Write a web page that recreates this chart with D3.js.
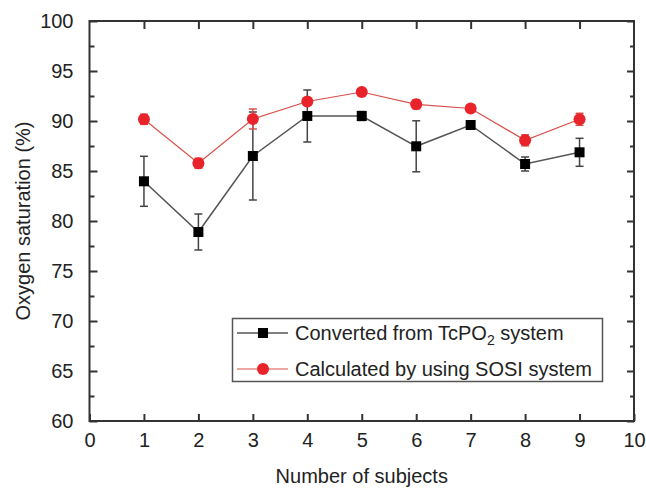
<!DOCTYPE html>
<html><head><meta charset="utf-8">
<script src="https://cdn.jsdelivr.net/npm/d3@7/dist/d3.min.js"></script>
<style>body{margin:0;background:#fff}svg{display:block;font-family:"Liberation Sans",Arial,sans-serif}</style>
</head><body><svg id="c" width="646" height="488"></svg>
<script>
const subjects = [1,2,3,4,5,6,7,8,9];
const tcpo2 = [83.97,78.9,86.5,90.5,90.5,87.47,89.6,85.7,86.87];
const tcpo2Err = [2.5,1.8,4.4,2.6,0.45,2.55,0.25,0.7,1.4];
const sosi = [90.17,85.77,90.2,91.95,92.9,91.67,91.25,88.07,90.17];
const sosiErr = [0.5,0.5,1.0,0.35,0.3,0.45,0.25,0.55,0.6];
const xTicks = [0,1,2,3,4,5,6,7,8,9,10];
const yTicks = [60,65,70,75,80,85,90,95,100];
const yMinor = [62.5,67.5,72.5,77.5,82.5,87.5,92.5,97.5];
const seriesNames = ["Converted from TcPO", "Calculated by using SOSI system"];

const svg = d3.select("#c");
const L=89.5, R=634, T=21, B=421;
const x = d3.scaleLinear().domain([0,10]).range([L,R]);
const y = d3.scaleLinear().domain([60,100]).range([B,T]);
const axisCol="#333";

svg.append("rect").attr("x",L).attr("y",T).attr("width",R-L).attr("height",B-T)
  .attr("fill","none").attr("stroke",axisCol).attr("stroke-width",2);

const fs=20;
const gx = svg.append("g").attr("transform",`translate(0,${B})`)
  .call(d3.axisBottom(x).tickValues(xTicks).tickSize(-7).tickPadding(12).tickFormat(d3.format("d")));
gx.select(".domain").remove();
gx.selectAll("line").attr("stroke",axisCol).attr("stroke-width",2);
gx.selectAll("text").attr("font-size",fs).attr("fill","#222").attr("font-family","Liberation Sans, Arial, sans-serif");
const gt = svg.append("g").attr("transform",`translate(0,${T})`)
  .call(d3.axisTop(x).tickValues(xTicks.slice(1,-1)).tickSize(-8).tickFormat(""));
gt.select(".domain").remove();
gt.selectAll("line").attr("stroke",axisCol).attr("stroke-width",2);
const gy = svg.append("g").attr("transform",`translate(${L},0)`)
  .call(d3.axisLeft(y).tickValues(yTicks).tickSize(-8).tickPadding(16).tickFormat(d3.format("d")));
gy.select(".domain").remove();
gy.selectAll("line").attr("stroke",axisCol).attr("stroke-width",2);
gy.selectAll("text").attr("font-size",fs).attr("fill","#222").attr("font-family","Liberation Sans, Arial, sans-serif");
const gym = svg.append("g").attr("transform",`translate(${L},0)`)
  .call(d3.axisLeft(y).tickValues(yMinor).tickSize(-5).tickFormat(""));
gym.select(".domain").remove();
gym.selectAll("line").attr("stroke",axisCol).attr("stroke-width",2);
const gr = svg.append("g").attr("transform",`translate(${R},0)`)
  .call(d3.axisRight(y).tickValues(yTicks).tickSize(-7).tickFormat(""));
gr.select(".domain").remove();
gr.selectAll("line").attr("stroke",axisCol).attr("stroke-width",2);
const grm = svg.append("g").attr("transform",`translate(${R},0)`)
  .call(d3.axisRight(y).tickValues(yMinor).tickSize(-4).tickFormat(""));
grm.select(".domain").remove();
grm.selectAll("line").attr("stroke",axisCol).attr("stroke-width",2);

svg.append("text").attr("x",(L+R)/2).attr("y",483).attr("text-anchor","middle")
  .attr("font-size",fs).attr("fill","#222").text("Number of subjects");
svg.append("text").attr("transform",`translate(29.5,${(T+B)/2}) rotate(-90)`).attr("text-anchor","middle")
  .attr("font-size",fs).attr("fill","#222").text("Oxygen saturation (%)");

function drawSeries(vals, errs, lineCol, lw, errCol, markCol, shape){
  const g = svg.append("g");
  g.append("path").datum(subjects.map((s,i)=>[s,vals[i]]))
    .attr("d",d3.line().x(d=>x(d[0])).y(d=>y(d[1])))
    .attr("fill","none").attr("stroke",lineCol).attr("stroke-width",lw);
  subjects.forEach((s,i)=>{
    const cx=x(s), y1=y(vals[i]+errs[i]), y2=y(vals[i]-errs[i]);
    g.append("line").attr("x1",cx).attr("x2",cx).attr("y1",y1).attr("y2",y2).attr("stroke",errCol).attr("stroke-width",1.5);
    g.append("line").attr("x1",cx-4).attr("x2",cx+4).attr("y1",y1).attr("y2",y1).attr("stroke",errCol).attr("stroke-width",1.5);
    g.append("line").attr("x1",cx-4).attr("x2",cx+4).attr("y1",y2).attr("y2",y2).attr("stroke",errCol).attr("stroke-width",1.5);
  });
  subjects.forEach((s,i)=>{
    if(shape==="square") g.append("rect").attr("x",x(s)-5).attr("y",y(vals[i])-5).attr("width",10).attr("height",10).attr("fill",markCol);
    else g.append("circle").attr("cx",x(s)).attr("cy",y(vals[i])).attr("r",6).attr("fill",markCol);
  });
}
drawSeries(tcpo2, tcpo2Err, "#555", 1.5, "#444", "#000", "square");
drawSeries(sosi, sosiErr, "#d6504a", 1.2, "#d6504a", "#e8232a", "circle");

const lg = svg.append("g");
lg.append("rect").attr("x",232.5).attr("y",318.5).attr("width",370).attr("height",63)
  .attr("fill","#fff").attr("stroke","#555").attr("stroke-width",1.5);
const rows=[{yy:333,lc:"#555",lw:1.5,mc:"#000",shape:"square"},{yy:369,lc:"#d6504a",lw:1.2,mc:"#e8232a",shape:"circle"}];
rows.forEach((r,i)=>{
  lg.append("line").attr("x1",237).attr("x2",288).attr("y1",r.yy).attr("y2",r.yy).attr("stroke",r.lc).attr("stroke-width",r.lw);
  if(r.shape==="square") lg.append("rect").attr("x",258).attr("y",r.yy-5).attr("width",10).attr("height",10).attr("fill",r.mc);
  else lg.append("circle").attr("cx",263).attr("cy",r.yy).attr("r",6).attr("fill",r.mc);
  const t = lg.append("text").attr("x",295).attr("y",r.yy+7).attr("font-size",fs).attr("fill","#222");
  if(i===0){
    t.append("tspan").text(seriesNames[0]);
    t.append("tspan").attr("font-size",14).attr("dy",5).text("2");
    t.append("tspan").attr("dy",-5).text(" system");
  } else t.text(seriesNames[1]);
});
</script></body></html>
